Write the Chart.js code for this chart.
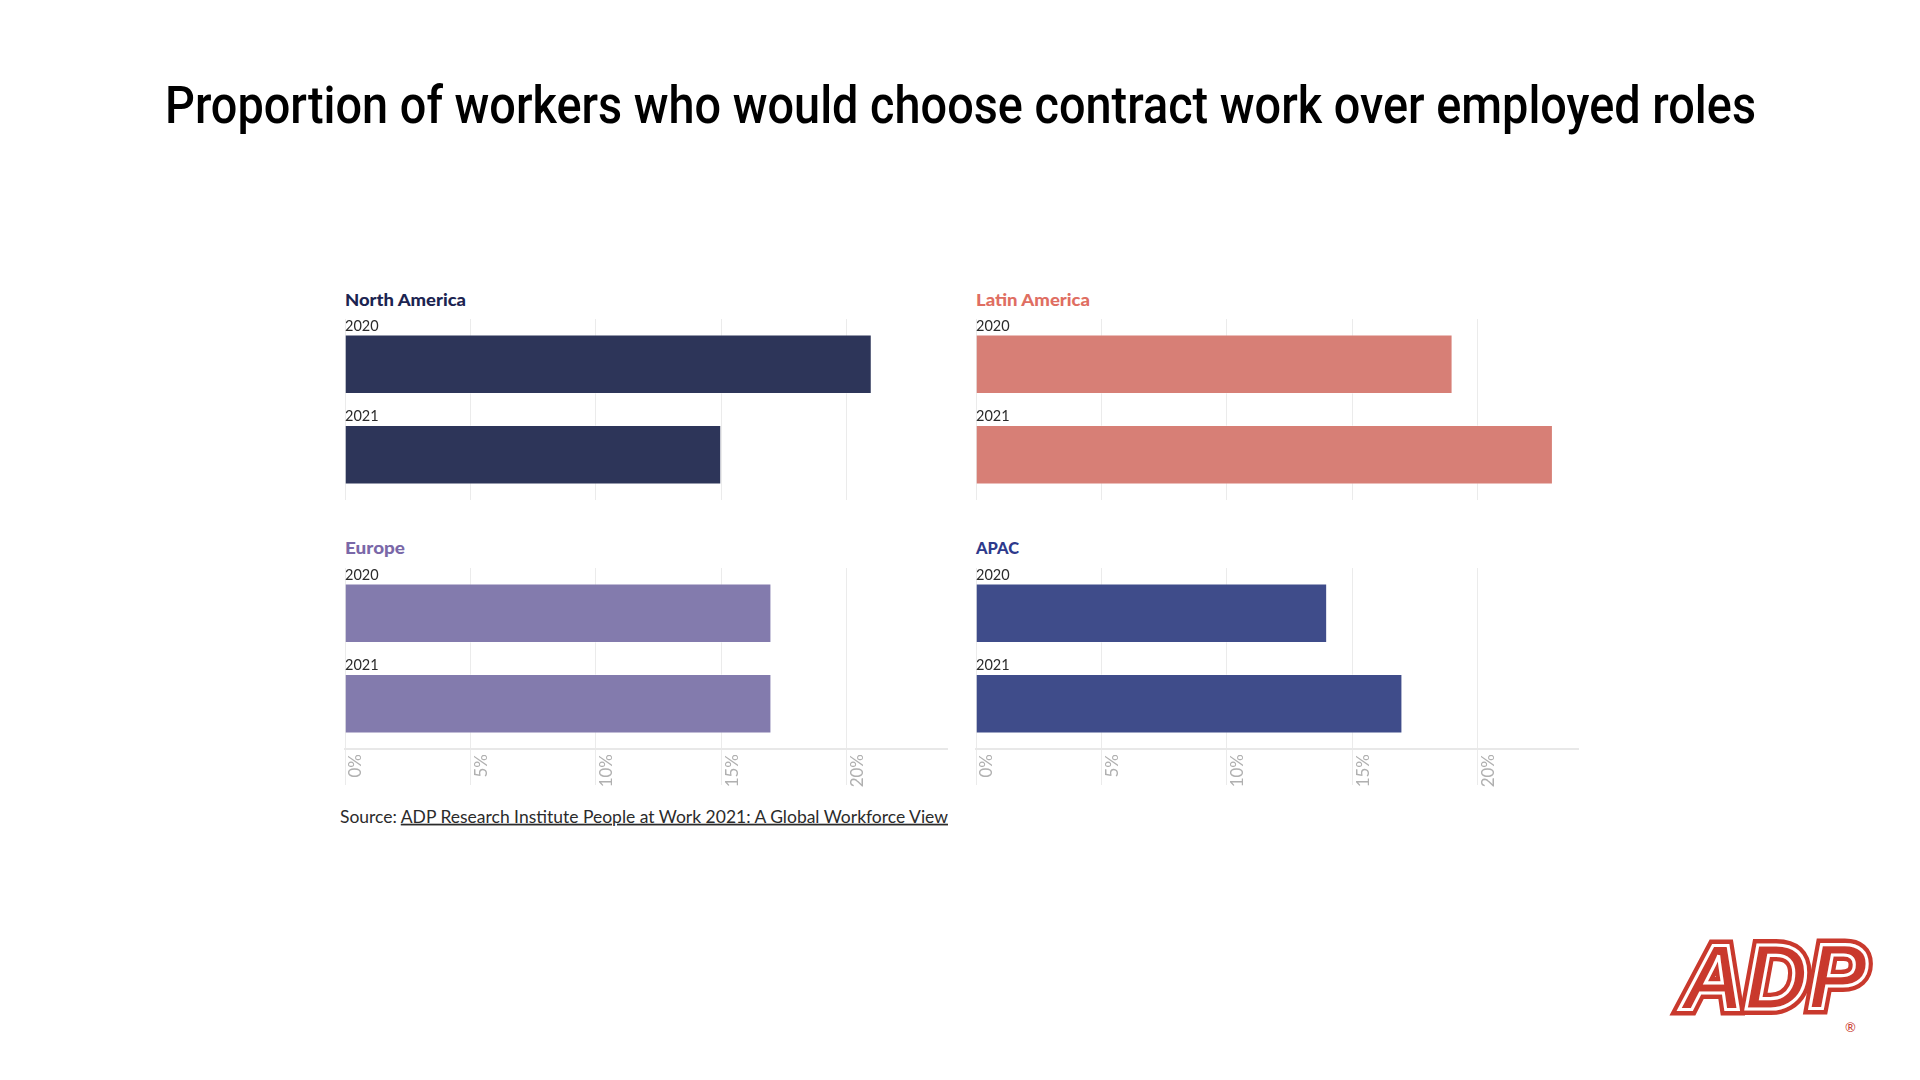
<!DOCTYPE html>
<html>
<head>
<meta charset="utf-8">
<title>Proportion of workers who would choose contract work over employed roles</title>
<script src="https://cdn.jsdelivr.net/npm/chart.js@4.4.1/dist/chart.umd.min.js"></script>
<style>
  html, body { margin: 0; padding: 0; background: #ffffff; }
  body { width: 1920px; height: 1080px; position: relative; overflow: hidden; }
  .panel { position: absolute; }
  .panel canvas { display: block; }
  #overlay { position: absolute; left: 0; top: 0; }
</style>
</head>
<body>
<svg id="overlay" width="1920" height="1080" xmlns="http://www.w3.org/2000/svg"></svg>
<div id="panels"></div>
<script>
// ---------------- DATA ----------------
const chartTitle = 'Proportion of workers who would choose contract work over employed roles';
const regions = ['North America', 'Latin America', 'Europe', 'APAC'];
const years = ['2020', '2021'];
const northAmerica = [21, 15];
const latinAmerica = [19, 23];
const europe = [17, 17];
const apac = [14, 17];
const xTickValues = [0, 5, 10, 15, 20];
const xMax = 24;
const sourceLabel = 'Source: ';
const sourceLink = 'ADP Research Institute People at Work 2021: A Global Workforce View';

// ---------------- LAYOUT / STYLE ----------------
const PLOT_W = 602, PLOT_H = 181;
const PADL = 15, PADR = 5, PADT = 12, PADB = 12, AXIS_H = 40;
const panels = [
  { title: regions[0], values: northAmerica, titleColor: '#1c2451', barColor: '#2d3559', left: 345, top: 319, axis: false, titleW: 121 },
  { title: regions[1], values: latinAmerica, titleColor: '#df6e62', barColor: '#d77f76', left: 976, top: 319, axis: false, titleW: 114 },
  { title: regions[2], values: europe,       titleColor: '#7a68a8', barColor: '#837bad', left: 345, top: 568, axis: true,  titleW: 60 },
  { title: regions[3], values: apac,         titleColor: '#2e3a8c', barColor: '#3f4c8a', left: 976, top: 568, axis: true,  titleW: 43 }
];

Chart.defaults.font.family = 'Lato, "Noto Sans", sans-serif';

const holder = document.getElementById('panels');
panels.forEach((p, i) => {
  const div = document.createElement('div');
  div.className = 'panel';
  const h = PADT + PLOT_H + (p.axis ? AXIS_H : 0) + PADB;
  const w = PADL + PLOT_W + PADR;
  div.style.left = (p.left - PADL) + 'px';
  div.style.top = (p.top - PADT) + 'px';
  const cv = document.createElement('canvas');
  cv.width = w; cv.height = h;
  cv.style.width = w + 'px'; cv.style.height = h + 'px';
  div.appendChild(cv);
  holder.appendChild(div);

  new Chart(cv, {
    type: 'bar',
    data: {
      labels: years,
      datasets: [{
        label: p.title,
        data: p.values,
        backgroundColor: p.barColor,
        borderColor: 'rgba(255,255,255,0.35)',
        borderWidth: 1,
        borderSkipped: 'start',
        barPercentage: 0.655,
        categoryPercentage: 1
      }]
    },
    options: {
      indexAxis: 'y',
      responsive: false,
      maintainAspectRatio: false,
      animation: false,
      devicePixelRatio: 1,
      layout: { padding: { left: PADL, right: PADR, top: PADT, bottom: PADB } },
      plugins: {
        legend: { display: false },
        tooltip: { enabled: false },
        title: { display: false }
      },
      scales: {
        x: {
          type: 'linear',
          position: 'bottom',
          min: 0,
          max: xMax,
          afterBuildTicks: (s) => { s.ticks = xTickValues.map(v => ({ value: v })); },
          afterFit: (s) => { s.height = p.axis ? AXIS_H : 0; },
          grid: {
            color: '#ebebeb',
            lineWidth: 1,
            drawTicks: p.axis,
            tickLength: 36,
            tickColor: '#ebebeb',
            tickWidth: 1
          },
          border: { display: p.axis, color: '#e8e8e8', width: 2 },
          ticks: {
            display: p.axis,
            autoSkip: false,
            minRotation: 90,
            maxRotation: 90,
            padding: -31,
            labelOffset: 11,
            color: '#b0b0b0',
            font: { size: 17, lineHeight: 1.2 },
            callback: (v) => v + '%'
          }
        },
        y: {
          type: 'category',
          position: 'left',
          grid: { display: false, drawTicks: false },
          border: { display: false },
          ticks: {
            mirror: true,
            padding: 0,
            labelOffset: -38,
            color: '#2b2b2b',
            font: { size: 14.5 }
          }
        }
      }
    }
  });
});

// ---------------- TEXT OVERLAY (SVG) ----------------
const NS = 'http://www.w3.org/2000/svg';
const svg = document.getElementById('overlay');
function addText(str, attrs) {
  const t = document.createElementNS(NS, 'text');
  for (const k in attrs) t.setAttribute(k, attrs[k]);
  t.textContent = str;
  svg.appendChild(t);
  return t;
}
addText(chartTitle, {
  x: 165, y: 123.3, 'font-family': 'Roboto, Lato, sans-serif', 'font-weight': 500,
  'font-size': 51, fill: '#000000', textLength: 1591, lengthAdjust: 'spacingAndGlyphs'
});
panels.forEach((p) => {
  addText(p.title, {
    x: p.left, y: p.top - (p.axis ? 14 : 13), 'font-family': 'Lato, sans-serif', 'font-weight': 900,
    'font-size': 17.5, fill: p.titleColor, textLength: p.titleW, lengthAdjust: 'spacingAndGlyphs'
  });
});
// source line
const src = document.createElementNS(NS, 'text');
src.setAttribute('x', 340);
src.setAttribute('y', 822.7);
src.setAttribute('font-family', 'Lato, sans-serif');
src.setAttribute('font-size', 17.5);
src.setAttribute('fill', '#2b2b2b');
src.setAttribute('textLength', 608);
src.setAttribute('lengthAdjust', 'spacingAndGlyphs');
const s1 = document.createElementNS(NS, 'tspan');
s1.textContent = sourceLabel;
const s2 = document.createElementNS(NS, 'tspan');
s2.textContent = sourceLink;
s2.setAttribute('text-decoration', 'underline');
src.appendChild(s1); src.appendChild(s2);
svg.appendChild(src);

// ADP logo (approximation)
const g = document.createElementNS(NS, 'g');
svg.appendChild(g);
const logoBase = { x: 1681, y: 1009, 'font-family': '"Liberation Sans", Arial, sans-serif', 'font-weight': 700,
  'font-style': 'italic', 'font-size': 92, textLength: 186, lengthAdjust: 'spacingAndGlyphs' };
const l1 = addText('ADP', Object.assign({}, logoBase, { fill: '#c9392d', stroke: '#c9392d', 'stroke-width': 12, 'stroke-linejoin': 'miter' }));
const l2 = addText('ADP', Object.assign({}, logoBase, { fill: 'none', stroke: '#ffffff', 'stroke-width': 3.2, 'stroke-linejoin': 'miter' }));
g.appendChild(l1); g.appendChild(l2);
addText('®', { x: 1845, y: 1032, 'font-family': 'Lato, sans-serif', 'font-size': 13, fill: '#c9392d' });
</script>
</body>
</html>
